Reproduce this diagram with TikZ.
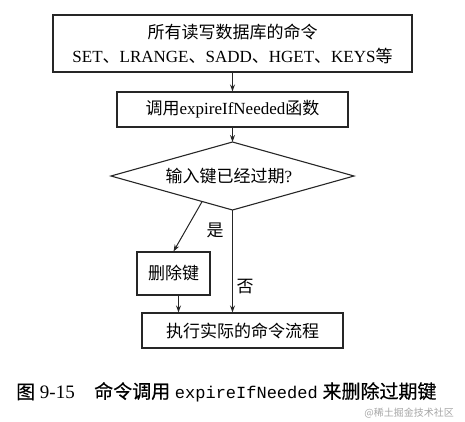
\documentclass[tikz,border=0pt]{standalone}
\usepackage{fontspec}
\setmainfont{Liberation Serif}
\newfontfamily\cjk{Noto Sans CJK SC}
\newfontfamily\cjkb[FakeBold=0.4]{Noto Sans CJK SC}
\newfontfamily\monof{Liberation Mono}
\usetikzlibrary{shapes.geometric,arrows.meta,calc}
\newcommand\cdun{{\cjk 、}}
\tikzset{
  box/.style={draw=black!85, line width=1.1pt, inner sep=0pt, align=center,
    font=\fontsize{17}{24}\selectfont},
  lbl/.style={inner sep=0pt, font=\fontsize{17}{20}\selectfont\cjk},
  conn/.style={draw=black!85, line width=1pt, -{Stealth[length=7pt,width=5pt]}}
}
\begin{document}
\begin{tikzpicture}[x=1pt,y=-1pt]
\useasboundingbox (0,0) rectangle (465,421);
\node[box, minimum width=359pt, minimum height=57pt] (top) at (232.5,43.5)
  {{\cjk 所有读写数据库的命令}\\SET\cdun LRANGE\cdun SADD\cdun HGET\cdun KEYS{\cjk 等}};
\node[box, minimum width=231pt, minimum height=35pt] (call) at (232.5,109.5)
  {{\cjk 调用}expireIfNeeded{\cjk 函数}};
% diamond
\coordinate (dn) at (232.5,142);
\coordinate (ds) at (232.5,210);
\coordinate (dw) at (111,176);
\coordinate (de) at (354,176);
\draw[draw=black!85, line width=1.1pt, line join=miter] (dn) -- (de) -- (ds) -- (dw) -- cycle;
\node[inner sep=0pt, font=\fontsize{17}{20}\selectfont] (dia) at (229,176)
  {{\cjk 输入键已经过期}?};
\node[box, minimum width=73pt, minimum height=43pt] (del) at (173.5,273.5)
  {\cjk 删除键};
\node[box, minimum width=201pt, minimum height=35pt] (fin) at (242.5,330.5)
  {\cjk 执行实际的命令流程};
\draw[conn] (top.south) -- (call.north);
\draw[conn] (call.south) -- (dn);
\draw[conn] ($(dw)!0.75!(ds)$) -- (del.north);
\draw[conn] ([xshift=5pt]del.south) -- ([xshift=5pt]del.south |- fin.north);
\draw[conn] (ds) -- (ds |- fin.north);
\node[lbl] (yes) at (215,230) {是};
\node[lbl] (no) at (245,287) {否};
\node[anchor=west, inner sep=0pt, font=\fontsize{19}{22}\selectfont] (capa) at (16,392)
  {{\cjkb 图} 9-15};
\node[anchor=west, inner sep=0pt, font=\fontsize{19}{22}\selectfont] (capb) at (94,392)
  {{\cjkb 命令调用} {\monof\fontsize{17}{22}\selectfont expireIfNeeded} {\cjkb 来删除过期键}};
\node[anchor=east, inner sep=0pt, text=black!35, font=\fontsize{10}{12}\selectfont\cjk] (wm) at (454,413)
  {@稀土掘金技术社区};
\end{tikzpicture}
\end{document}
